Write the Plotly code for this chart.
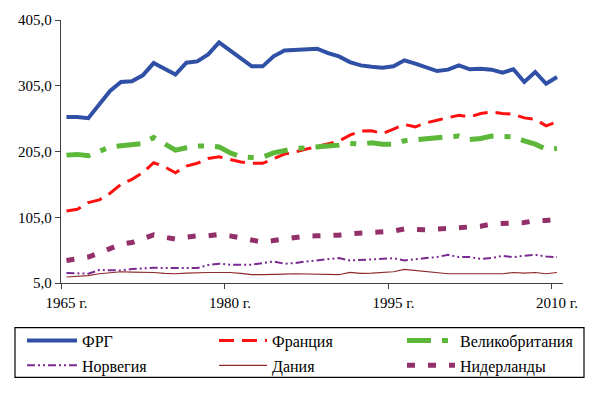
import plotly.graph_objects as go

years = list(range(1965, 2011))

frg = [257.6, 257.6, 255.6, 276.8, 297.0, 310.7, 311.8, 320.8, 339.5, 331.0,
       322.0, 340.0, 342.0, 352.7, 370.9, 358.8, 346.6, 334.5, 334.5, 349.7,
       358.8, 359.8, 360.7, 361.3, 354.7, 349.7, 341.0, 336.0, 334.0, 332.5,
       334.5, 343.6, 338.6, 333.4, 327.4, 329.5, 336.0, 330.0, 331.0, 329.5,
       325.0, 330.0, 310.7, 325.9, 308.0, 318.3]
france = [114.6, 117.2, 127.2, 131.3, 141.5, 155.0, 162.7, 172.7, 187.9, 181.8,
          172.7, 182.9, 187.0, 194.5, 197.0, 193.0, 189.0, 187.0, 187.0, 194.0,
          201.0, 204.5, 208.6, 212.0, 215.8, 220.8, 229.9, 236.0, 236.4, 232.4,
          239.0, 246.0, 242.5, 248.5, 252.6, 256.7, 260.2, 257.6, 262.8, 265.2,
          262.8, 261.7, 256.1, 254.1, 244.0, 250.0]
gb = [199.5, 200.6, 198.5, 204.5, 212.0, 213.7, 214.7, 217.3, 226.4, 217.3,
      207.0, 210.6, 213.2, 213.7, 212.0, 203.0, 197.0, 196.0, 196.5, 203.0,
      207.0, 209.7, 210.6, 211.2, 213.2, 214.7, 217.3, 216.2, 218.2, 216.2,
      216.0, 221.3, 222.3, 223.8, 225.8, 227.3, 228.4, 223.3, 224.9, 228.4,
      228.4, 227.3, 221.3, 216.2, 208.2, 209.7]
norway = [20.2, 20.2, 19.1, 24.7, 24.1, 24.1, 26.2, 27.7, 28.2, 27.7,
          27.7, 28.7, 27.7, 32.3, 34.3, 32.8, 32.8, 32.8, 35.3, 37.8,
          34.3, 35.3, 37.8, 39.3, 41.4, 42.9, 39.3, 40.3, 41.4, 41.4,
          42.6, 39.3, 41.4, 42.9, 44.4, 47.9, 44.4, 44.4, 41.8, 42.9,
          46.4, 44.4, 46.4, 47.9, 45.4, 44.4]
denmark = [14.1, 15.0, 16.1, 19.1, 21.0, 22.1, 21.5, 21.5, 21.0, 19.6,
           19.1, 20.0, 21.0, 21.0, 21.0, 21.0, 19.6, 17.6, 17.6, 17.6,
           18.6, 19.1, 18.6, 18.6, 17.6, 17.6, 21.0, 19.6, 20.1, 21.0,
           22.1, 25.6, 24.1, 22.1, 21.0, 19.1, 19.1, 19.1, 20.1, 19.1,
           19.1, 21.0, 20.1, 21.0, 19.1, 21.0]
netherlands = [39.3, 41.8, 44.4, 50.5, 57.0, 64.1, 66.6, 73.2, 78.2, 74.7,
               71.7, 74.7, 76.7, 76.7, 78.7, 76.7, 73.2, 69.1, 67.2, 69.6,
               72.2, 74.7, 76.3, 76.7, 76.7, 77.8, 79.8, 80.8, 81.3, 81.7,
               84.0, 87.3, 85.8, 85.8, 86.9, 87.8, 88.8, 89.9, 91.4, 94.9,
               95.4, 95.4, 96.9, 99.9, 99.9, 102.0]

x_tick_vals = [1965, 1980, 1995, 2010]
x_tick_text = ["1965 г.", "1980 г.", "1995 г.", "2010 г."]
y_tick_vals = [5, 105, 205, 305, 405]
y_tick_text = ["5,0", "105,0", "205,0", "305,0", "405,0"]

FONT = "Liberation Serif"

series = [
    ("ФРГ", frg, dict(color="#3050A6", width=4, dash="solid"), "legend"),
    ("Франция", france, dict(color="#FF1010", width=3, dash="15px,8px"), "legend2"),
    ("Великобритания", gb, dict(color="#5DB83A", width=5, dash="24px,11px,6px,11px"), "legend3"),
    ("Норвегия", norway, dict(color="#7A2A90", width=2, dash="8px,3px,2px,3px,2px,3px"), "legend"),
    ("Дания", denmark, dict(color="#8E2A2A", width=1.2, dash="solid"), "legend2"),
    ("Нидерланды", netherlands, dict(color="#93306A", width=5, dash="8px,13px"), "legend3"),
]

fig = go.Figure()
for i, (name, vals, line, leg) in enumerate(series):
    fig.add_trace(go.Scatter(x=years, y=vals, name=name, mode="lines", line=line,
                             legend=leg, legendgroup=str(i), hoverinfo="skip"))

W, H = 600, 393
L, R, T, B = 61, 37, 19.5, 109.7
pw = W - L - R
ph = H - T - B

def px2paper_x(px):
    return (px - L) / pw

def px2paper_y(py):
    return (H - B - py) / ph

legend_common = dict(orientation="v", xanchor="left", yanchor="top",
                     bgcolor="rgba(0,0,0,0)", borderwidth=0, tracegroupgap=1,
                     font=dict(family=FONT, size=16, color="black"))

fig.update_layout(
    width=W, height=H,
    margin=dict(l=L, r=R, t=T, b=B, autoexpand=False),
    paper_bgcolor="white", plot_bgcolor="white",
    font=dict(family=FONT, size=15, color="black"),
    xaxis=dict(range=[1964.5, 2010.55], showgrid=False, zeroline=False,
               showline=True, linecolor="#404040", linewidth=1.3,
               tickmode="array", tickvals=x_tick_vals, ticktext=x_tick_text,
               ticks="", ticklabelstandoff=6, tickfont=dict(family=FONT, size=15),
               minor=dict(tickmode="array", tickvals=[v - 0.5 for v in x_tick_vals],
                          ticks="outside", ticklen=5, tickcolor="#404040", showgrid=False)),
    yaxis=dict(range=[5, 405], showgrid=False, zeroline=False,
               showline=True, linecolor="#404040", linewidth=1.3,
               tickmode="array", tickvals=y_tick_vals, ticktext=y_tick_text,
               ticks="outside", ticklen=5, tickcolor="#404040",
               tickfont=dict(family=FONT, size=15)),
    legend=dict(x=px2paper_x(22), y=px2paper_y(324), itemwidth=50, **legend_common),
    legend2=dict(x=px2paper_x(214), y=px2paper_y(324), itemwidth=48, **legend_common),
    legend3=dict(x=px2paper_x(402), y=px2paper_y(324), itemwidth=48, **legend_common),
    shapes=[dict(type="rect", xref="paper", yref="paper",
                 x0=px2paper_x(15), x1=px2paper_x(584),
                 y0=px2paper_y(378), y1=px2paper_y(328),
                 line=dict(color="black", width=1.2), fillcolor="rgba(0,0,0,0)")],
)

fig.write_html("out.html", config={"displayModeBar": False},
               post_script="document.body.style.margin='0';")
